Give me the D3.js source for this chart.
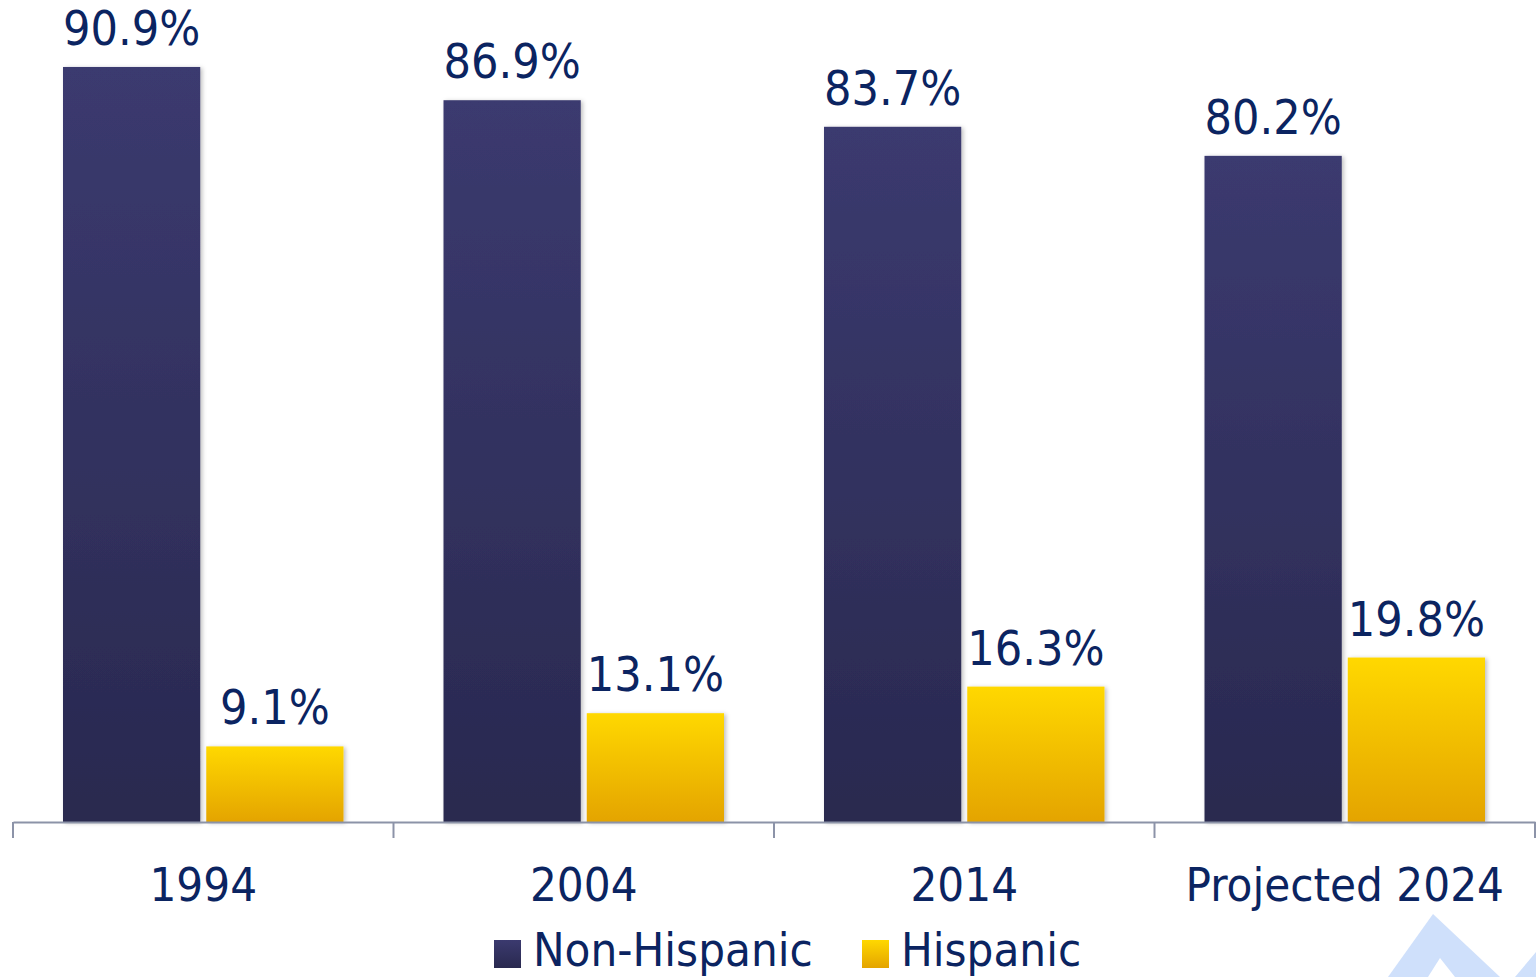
<!DOCTYPE html>
<html lang="en">
<head>
    <meta charset="UTF-8">
    <title>Non-Hispanic vs Hispanic</title>
    <script src="https://d3js.org/d3.v7.min.js"></script>
    <style>
        body { margin: 0; background: #fff; }
        text { font-family: "DejaVu Sans Condensed", "DejaVu Sans", sans-serif; fill: #0b2461; }
    </style>
</head>
<body>
<script type="text/javascript">
    var categories = ["1994", "2004", "2014", "Projected 2024"];
    var seriesNames = ["Non-Hispanic", "Hispanic"];
    var nonHispanic = [90.9, 86.9, 83.7, 80.2];
    var hispanic = [9.1, 13.1, 16.3, 19.8];

    var svgWidth = 1536;
    var svgHeight = 977;
    var baseY = 822;

    var svg = d3.select("body").append("svg")
        .attr("width", svgWidth)
        .attr("height", svgHeight);

    var defs = svg.append("defs");
    var gradients = [
        {id: "navyGrad", top: "#3b3a6f", bottom: "#29294f"},
        {id: "goldGrad", top: "#ffd800", bottom: "#e4a400"}
    ];
    gradients.forEach(function (g) {
        var lg = defs.append("linearGradient")
            .attr("id", g.id)
            .attr("x1", 0).attr("y1", 0).attr("x2", 0).attr("y2", 1);
        lg.append("stop").attr("offset", "0%").attr("stop-color", g.top);
        lg.append("stop").attr("offset", "100%").attr("stop-color", g.bottom);
    });
    var shadow = defs.append("filter").attr("id", "shadow")
        .attr("x", "-10%").attr("y", "-10%").attr("width", "130%").attr("height", "120%");
    shadow.append("feDropShadow")
        .attr("dx", 2).attr("dy", 1).attr("stdDeviation", 2)
        .attr("flood-color", "#000").attr("flood-opacity", 0.25);

    // background decoration bottom right
    svg.append("polygon")
        .attr("points", "1433,914 1388,977 1500,977")
        .attr("fill", "#cfe0fb");
    svg.append("polygon")
        .attr("points", "1440,958 1428,977 1455,977")
        .attr("fill", "#fff");
    svg.append("polygon")
        .attr("points", "1536,952 1515,977 1536,977")
        .attr("fill", "#cfe0fb");

    var xScale = d3.scaleBand()
        .domain(categories)
        .range([13, 1535])
        .paddingInner(0)
        .paddingOuter(0);

    var xInner = d3.scaleBand()
        .domain(seriesNames)
        .range([50, xScale.bandwidth() - 50])
        .paddingInner(6 / 143);

    var yScale = d3.scaleLinear()
        .domain([0, 100])
        .range([baseY, -8.6]);

    var colors = d3.scaleOrdinal()
        .domain(seriesNames)
        .range(["url(#navyGrad)", "url(#goldGrad)"]);

    var rows = categories.map(function (c, i) {
        return {category: c, values: [
            {series: seriesNames[0], value: nonHispanic[i]},
            {series: seriesNames[1], value: hispanic[i]}
        ]};
    });

    var groups = svg.selectAll("g.group")
        .data(rows)
        .enter()
        .append("g")
        .attr("class", "group")
        .attr("transform", function (d) {
            return "translate(" + xScale(d.category) + ",0)";
        });

    groups.selectAll("rect")
        .data(function (d) { return d.values; })
        .enter()
        .append("rect")
        .attr("x", function (d) { return xInner(d.series); })
        .attr("y", function (d) { return yScale(d.value); })
        .attr("width", xInner.bandwidth())
        .attr("height", function (d) { return baseY - yScale(d.value); })
        .attr("fill", function (d) { return colors(d.series); })
        .attr("filter", "url(#shadow)");

    groups.selectAll("text.value")
        .data(function (d) { return d.values; })
        .enter()
        .append("text")
        .attr("class", "value")
        .attr("x", function (d) { return xInner(d.series) + xInner.bandwidth() / 2; })
        .attr("y", function (d) { return yScale(d.value) - 22; })
        .attr("text-anchor", "middle")
        .attr("font-size", "48px")
        .text(function (d) { return d.value.toFixed(1) + "%"; });

    // axis
    var xAxis = d3.axisBottom(xScale)
        .tickSize(0)
        .tickPadding(45)
        .tickSizeOuter(0);

    var axisG = svg.append("g")
        .attr("transform", "translate(0," + baseY + ")")
        .call(xAxis);
    axisG.select(".domain").attr("stroke", "#8c93a8").attr("stroke-width", 2);
    axisG.selectAll(".tick text")
        .attr("font-size", "47px")
        .attr("fill", "#0b2461")
        .attr("dy", "0.72em")
        .style("font-family", "\"DejaVu Sans Condensed\", \"DejaVu Sans\", sans-serif");

    var boundaries = categories.map(function (c) { return xScale(c); })
        .concat([xScale.range()[1]]);
    axisG.selectAll("line.sep")
        .data(boundaries)
        .enter()
        .append("line")
        .attr("class", "sep")
        .attr("x1", function (d) { return d; })
        .attr("x2", function (d) { return d; })
        .attr("y1", 0)
        .attr("y2", 16)
        .attr("stroke", "#8c93a8")
        .attr("stroke-width", 2);

    // legend
    var legendX = [494, 862];
    var legend = svg.selectAll("g.legend")
        .data(seriesNames)
        .enter()
        .append("g")
        .attr("class", "legend")
        .attr("transform", function (d, i) { return "translate(" + legendX[i] + ",940)"; });
    legend.append("rect")
        .attr("width", 27)
        .attr("height", 28)
        .attr("fill", function (d) { return colors(d); });
    legend.append("text")
        .attr("x", 39)
        .attr("y", 26)
        .attr("font-size", "47px")
        .text(function (d) { return d; });
</script>
</body>
</html>
